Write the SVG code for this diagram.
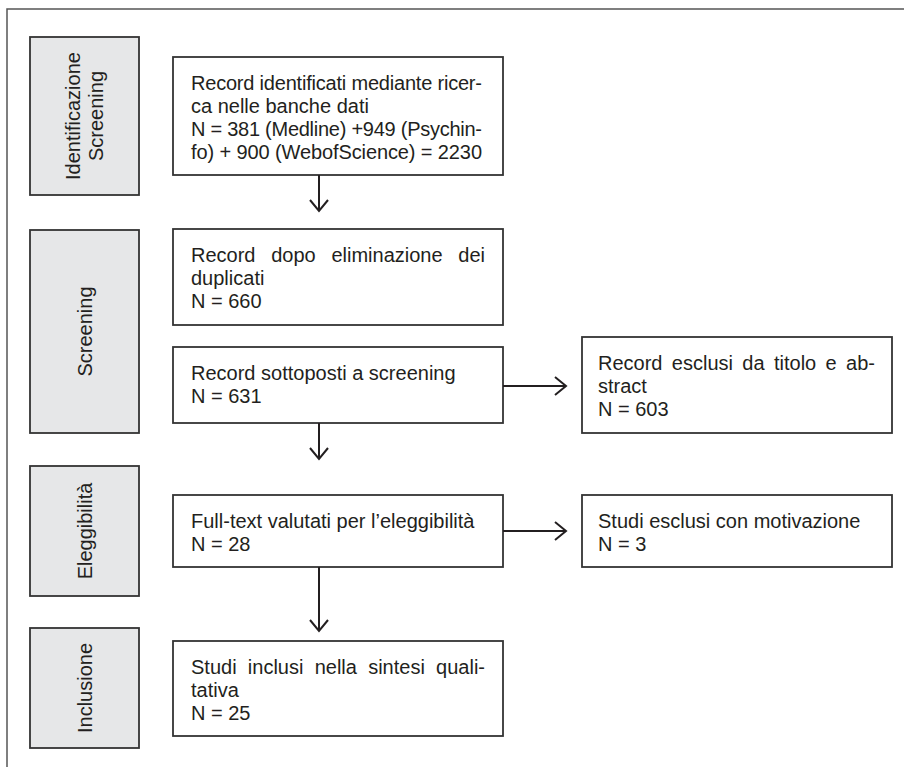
<svg xmlns="http://www.w3.org/2000/svg" width="904" height="767" viewBox="0 0 904 767">
  <defs>
    <style>
      .frame { fill: none; stroke: #555; stroke-width: 1.5; }
      .phase { fill: #e6e7e8; stroke: #333; stroke-width: 1.8; }
      .box { fill: #fff; stroke: #333; stroke-width: 1.8; }
      .t { font-family: "Liberation Sans", Arial, sans-serif; font-size: 20px; fill: #231f20; }
      .lbl { text-anchor: middle; }
      .conn { fill: none; stroke: #231f20; stroke-width: 2; }
      .head { fill: none; stroke: #231f20; stroke-width: 2; stroke-linejoin: miter; }
    </style>
  </defs>

  <rect x="0" y="0" width="904" height="767" fill="#fff"/>
  <path class="frame" d="M7 767 V9 H904"/>

  <!-- phase labels -->
  <g id="phase-identificazione">
    <rect class="phase" x="30" y="37" width="109" height="158"/>
    <text class="t lbl" transform="translate(80 116) rotate(-90)">Identificazione</text>
    <text class="t lbl" transform="translate(103 116) rotate(-90)">Screening</text>
  </g>
  <g id="phase-screening">
    <rect class="phase" x="30" y="230" width="109" height="203"/>
    <text class="t lbl" transform="translate(91.5 331.5) rotate(-90)">Screening</text>
  </g>
  <g id="phase-eleggibilita">
    <rect class="phase" x="30" y="466" width="109" height="130"/>
    <text class="t lbl" transform="translate(91.5 531) rotate(-90)">Eleggibilità</text>
  </g>
  <g id="phase-inclusione">
    <rect class="phase" x="30" y="628" width="109" height="120"/>
    <text class="t lbl" transform="translate(91.5 688) rotate(-90)">Inclusione</text>
  </g>

  <!-- flow boxes -->
  <g id="identificati">
    <rect class="box" x="173" y="57" width="330" height="118"/>
    <text class="t" x="191" y="90" textLength="291" lengthAdjust="spacing">Record identificati mediante ricer-</text>
    <text class="t" x="191" y="113">ca nelle banche dati</text>
    <text class="t" x="191" y="136" textLength="291" lengthAdjust="spacing">N = 381 (Medline) +949 (Psychin-</text>
    <text class="t" x="191" y="159" textLength="291" lengthAdjust="spacing">fo) + 900 (WebofScience) = 2230</text>
  </g>
  <g id="dopo-duplicati">
    <rect class="box" x="173" y="229" width="330" height="96"/>
    <text class="t" x="191" y="262" word-spacing="10.2" textLength="294" lengthAdjust="spacing">Record dopo eliminazione dei</text>
    <text class="t" x="191" y="285">duplicati</text>
    <text class="t" x="191" y="308">N = 660</text>
  </g>
  <g id="sottoposti-screening">
    <rect class="box" x="173" y="347" width="330" height="76"/>
    <text class="t" x="191" y="380">Record sottoposti a screening</text>
    <text class="t" x="191" y="403">N = 631</text>
  </g>
  <g id="esclusi-titolo">
    <rect class="box" x="582" y="337" width="310" height="96"/>
    <text class="t" x="598" y="370" word-spacing="3.8" textLength="277" lengthAdjust="spacing">Record esclusi da titolo e ab-</text>
    <text class="t" x="598" y="393">stract</text>
    <text class="t" x="598" y="416">N = 603</text>
  </g>
  <g id="full-text">
    <rect class="box" x="173" y="495" width="330" height="72"/>
    <text class="t" x="191" y="528">Full-text valutati per l’eleggibilità</text>
    <text class="t" x="191" y="551">N = 28</text>
  </g>
  <g id="esclusi-motivazione">
    <rect class="box" x="582" y="495" width="310" height="72"/>
    <text class="t" x="598" y="528">Studi esclusi con motivazione</text>
    <text class="t" x="598" y="551">N = 3</text>
  </g>
  <g id="inclusi">
    <rect class="box" x="173" y="641" width="330" height="95"/>
    <text class="t" x="191" y="674" word-spacing="5.7" textLength="294" lengthAdjust="spacing">Studi inclusi nella sintesi quali-</text>
    <text class="t" x="191" y="697">tativa</text>
    <text class="t" x="191" y="720">N = 25</text>
  </g>

  <!-- connectors -->
  <g id="connectors">
    <path class="conn" d="M319 175 V211"/>
    <path class="head" d="M310 200 L319 211 L328 200"/>
    <path class="conn" d="M319 423 V459"/>
    <path class="head" d="M310 448 L319 459 L328 448"/>
    <path class="conn" d="M319 567 V631"/>
    <path class="head" d="M310 620 L319 631 L328 620"/>
    <path class="conn" d="M503 386 H566"/>
    <path class="head" d="M555 377 L566 386 L555 395"/>
    <path class="conn" d="M503 531 H566"/>
    <path class="head" d="M555 522 L566 531 L555 540"/>
  </g>
</svg>
